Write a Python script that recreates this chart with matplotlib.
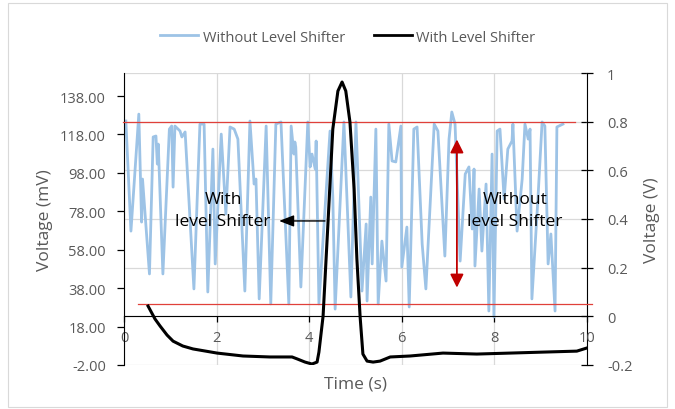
import numpy as np
import matplotlib
matplotlib.use("Agg")
import matplotlib.pyplot as plt
from matplotlib.lines import Line2D
from matplotlib.patches import Rectangle

plt.rcParams['font.family'] = ['Open Sans', 'DejaVu Sans']

# ---- data ----
# Without Level Shifter (left axis, mV)
t_without = [0.04, 0.15, 0.32, 0.38, 0.40, 0.55, 0.63, 0.69, 0.72, 0.74, 0.84, 0.98, 1.03, 1.06, 1.10,
             1.21, 1.25, 1.32, 1.51, 1.64, 1.73, 1.81, 1.92, 1.97, 2.10, 2.20, 2.29, 2.38, 2.46, 2.61,
             2.72, 2.81, 2.85, 2.92, 3.07, 3.17, 3.28, 3.39, 3.56, 3.61, 3.67, 3.69, 3.71, 3.82, 3.97,
             4.02, 4.06, 4.13, 4.15, 4.21, 4.45, 4.51, 4.56, 4.75, 4.90, 5.01, 5.14, 5.23, 5.25, 5.33,
             5.36, 5.44, 5.49, 5.57, 5.66, 5.72, 5.79, 5.87, 5.98, 6.00, 6.11, 6.16, 6.26, 6.33, 6.44,
             6.52, 6.70, 6.78, 6.93, 7.02, 7.08, 7.15, 7.26, 7.37, 7.45, 7.52, 7.56, 7.58, 7.67, 7.73,
             7.82, 7.88, 7.95, 7.99, 8.06, 8.12, 8.21, 8.29, 8.38, 8.40, 8.49, 8.60, 8.66, 8.73, 8.77,
             8.81, 8.94, 9.03, 9.09, 9.16, 9.22, 9.31, 9.35, 9.48]
mv_without = [125.0, 67.7, 128.6, 72.4, 94.8, 45.4, 116.7, 117.2, 102.6, 113.0, 45.4, 120.8, 122.4, 90.6, 122.4,
              119.8, 116.7, 119.3, 37.6, 123.4, 123.4, 36.0, 110.4, 50.6, 118.2, 76.6, 121.9, 120.8, 115.6, 36.5,
              125.0, 92.2, 94.8, 32.4, 122.4, 29.8, 123.4, 124.5, 29.8, 122.4, 107.8, 114.1, 111.5, 38.6, 124.5,
              101.1, 107.8, 100.0, 114.6, 29.8, 119.8, 85.4, 27.1, 124.5, 33.4, 124.5, 36.5, 71.4, 31.3, 85.4,
              50.6, 120.8, 29.8, 62.5, 41.7, 123.4, 104.2, 103.7, 122.4, 49.0, 69.8, 28.2, 120.8, 121.9, 61.0,
              37.6, 123.4, 119.8, 54.7, 115.6, 129.7, 123.4, 52.1, 97.4, 101.1, 68.8, 100.0, 49.5, 89.6, 57.3,
              92.2, 26.1, 107.8, 23.0, 119.8, 120.8, 84.4, 110.4, 114.6, 123.4, 67.7, 94.8, 123.4, 115.6, 120.8,
              32.4, 84.4, 124.5, 122.4, 50.6, 66.2, 26.1, 121.9, 123.4]

# With Level Shifter (right axis, V)
t_with = [0.52, 0.67, 0.78, 0.93, 1.06, 1.27, 1.49, 2.01, 2.57, 3.15, 3.63, 3.74, 3.91, 4.06, 4.17,
          4.21, 4.30, 4.41, 4.51, 4.62, 4.71, 4.79, 4.88, 4.97, 5.03, 5.10, 5.16, 5.25, 5.38, 5.53,
          5.75, 6.18, 6.89, 7.62, 8.34, 9.05, 9.78, 10.0]
v_with = [0.042, -0.011, -0.040, -0.077, -0.102, -0.122, -0.134, -0.151, -0.163, -0.167, -0.167, -0.175,
          -0.188, -0.196, -0.188, -0.147, 0.001, 0.400, 0.770, 0.926, 0.963, 0.926, 0.799, 0.523, 0.236,
          -0.003, -0.155, -0.184, -0.188, -0.184, -0.167, -0.163, -0.151, -0.155, -0.151, -0.147, -0.143,
          -0.130]

left_ticks = [-2, 18, 38, 58, 78, 98, 118, 138]
right_ticks = [-0.2, 0, 0.2, 0.4, 0.6, 0.8, 1.0]
x_ticks = [0, 2, 4, 6, 8, 10]

# reference band lines (V)
band_upper = 0.8
band_lower = 0.051

GRAY_TXT = '#595959'
BLUE = '#9DC3E6'
RED = '#E0403A'
DARKRED = '#C00000'

fig = plt.figure(figsize=(6.75, 4.1), dpi=100)
fig.patch.set_facecolor('white')
fig.patches.append(Rectangle((8 / 675, 2 / 410), 659 / 675, 404 / 410, transform=fig.transFigure,
                             fill=False, edgecolor='#D9D9D9', linewidth=0.8))

ax = fig.add_axes([124 / 675, 1 - 366 / 410, 463 / 675, 292 / 410])
ax2 = ax.twinx()
ax2.set_zorder(0)
ax.set_zorder(1)
ax.patch.set_visible(False)

ax.set_xlim(0, 10)
ax.set_ylim(-2, 150)
ax2.set_ylim(-0.2, 1.0)

# grid
ax2.set_yticks(right_ticks)
ax2.yaxis.grid(True, color='#D9D9D9', linewidth=0.9)
ax.set_xticks(x_ticks)
ax.xaxis.grid(True, color='#D9D9D9', linewidth=0.9)
ax.set_axisbelow(True)

# series
ax.plot(t_without, mv_without, color=BLUE, linewidth=2.0, zorder=2, solid_joinstyle='round')
ax.plot([-0.02, 9.75], [band_upper, band_upper], color=RED, linewidth=0.9, transform=ax2.transData,
        zorder=3, clip_on=False)
ax.plot([0.3, 10.1], [band_lower, band_lower], color=RED, linewidth=0.9, transform=ax2.transData,
        zorder=3, clip_on=False)
ax.plot(t_with, v_with, color='black', linewidth=2.2, transform=ax2.transData, zorder=4,
        solid_joinstyle='round')

# annotations
ax.annotate('', xy=(7.19, 0.727), xytext=(7.19, 0.118), xycoords=ax2.transData, textcoords=ax2.transData,
            arrowprops=dict(arrowstyle='<|-|>,head_length=0.8,head_width=0.4', color=DARKRED,
                            linewidth=1.3, shrinkA=0, shrinkB=0), zorder=5)
ax.annotate('', xy=(3.35, 0.392), xytext=(4.34, 0.392), xycoords=ax2.transData, textcoords=ax2.transData,
            arrowprops=dict(arrowstyle='-|>,head_length=0.9,head_width=0.35', color='black',
                            linewidth=1.0, shrinkA=0, shrinkB=0), zorder=5)
ax.text(2.14, 0.436, 'With\nlevel Shifter', transform=ax2.transData, ha='center', va='center',
        fontsize=12.5, linespacing=1.5, color='black', zorder=6)
ax.text(8.44, 0.436, 'Without\nlevel Shifter', transform=ax2.transData, ha='center', va='center',
        fontsize=12.5, linespacing=1.5, color='black', zorder=6)

# spines
ax.spines['top'].set_visible(False)
ax.spines['right'].set_visible(False)
ax.spines['bottom'].set_position(('data', -2 + (0 + 0.2) / 1.2 * 152))
ax.spines['bottom'].set_color('black')
ax.spines['left'].set_color('black')
for s in ['top', 'left', 'bottom']:
    ax2.spines[s].set_visible(False)
ax2.spines['right'].set_color('black')

# ticks
ax.set_yticks(left_ticks)
ax.set_yticklabels([f'{v:.2f}' for v in left_ticks])
ax.set_xticklabels([str(v) for v in x_ticks])
ax.tick_params(axis='y', direction='out', length=5, width=0.9, colors='black', labelcolor=GRAY_TXT,
               labelsize=10.5, pad=8)
ax.tick_params(axis='x', direction='out', length=4, width=0.9, colors='black', labelcolor=GRAY_TXT,
               labelsize=10.5, pad=6)
ax2.set_yticklabels([f'{v:g}' for v in right_ticks])
ax2.tick_params(axis='y', direction='inout', length=9, width=0.9, colors='black', labelcolor=GRAY_TXT,
                labelsize=10.5, pad=10)

ax.set_ylabel('Voltage (mV)', fontsize=12.5, color=GRAY_TXT, labelpad=5)
ax2.set_ylabel('Voltage (V)', fontsize=12.5, color=GRAY_TXT, labelpad=8)
ax.set_xlabel('Time (s)', fontsize=12.5, color=GRAY_TXT)
ax.xaxis.set_label_coords(0.5, -0.035)

handles = [Line2D([], [], color=BLUE, linewidth=2.0), Line2D([], [], color='black', linewidth=2.0)]
fig.legend(handles, ['Without Level Shifter', 'With Level Shifter'], loc='center',
           bbox_to_anchor=(348 / 675, 1 - 38 / 410), ncol=2, frameon=False, fontsize=10.5,
           labelcolor=GRAY_TXT, handlelength=2.6, handletextpad=0.3, columnspacing=2.0)

fig.savefig('out.png', dpi=100)
